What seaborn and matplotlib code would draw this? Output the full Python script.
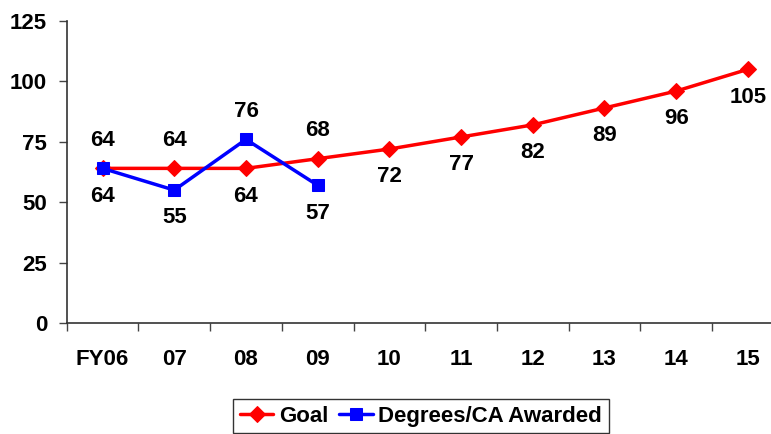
import matplotlib
matplotlib.use('Agg')
import matplotlib.pyplot as plt
import numpy as np
import pandas as pd
import seaborn as sns

# data
years = ['FY06', '07', '08', '09', '10', '11', '12', '13', '14', '15']
goal = [64, 64, 64, 68, 72, 77, 82, 89, 96, 105]
awarded = [64, 55, 76, 57]
# label placement: +1 above, -1 below
goal_label_side = [1, 1, -1, 1, -1, -1, -1, -1, -1, -1]
awarded_label_side = [-1, -1, 1, -1]

sns.set_theme(style='white')
plt.rcParams['font.family'] = ['Liberation Sans', 'DejaVu Sans']
plt.rcParams['font.weight'] = 'bold'
plt.rcParams['text.color'] = 'black'
plt.rcParams['xtick.color'] = 'black'
plt.rcParams['ytick.color'] = 'black'

FS = 16

goal_df = pd.DataFrame({'x': np.arange(len(goal)), 'value': goal})
awarded_df = pd.DataFrame({'x': np.arange(len(awarded)), 'value': awarded})

fig = plt.figure(figsize=(7.71, 4.34), dpi=100)
ax = fig.add_axes([0.0865, 0.2558, 0.930, 0.6958])

sns.lineplot(data=goal_df, x='x', y='value', ax=ax, color='#ff0000', linewidth=2.5,
             marker='D', markersize=8, markeredgecolor='#ff0000', label='Goal')
sns.lineplot(data=awarded_df, x='x', y='value', ax=ax, color='#0000ff', linewidth=2.5,
             marker='s', markersize=9, markeredgecolor='#0000ff', label='Degrees/CA Awarded')

for i, (v, s) in enumerate(zip(goal, goal_label_side)):
    ax.annotate(str(v), (i, v), xytext=(0, 20 * s), textcoords='offset points',
                ha='center', va='center', fontsize=FS, fontweight='bold', color='black')
for i, (v, s) in enumerate(zip(awarded, awarded_label_side)):
    ax.annotate(str(v), (i, v), xytext=(0, 20 * s), textcoords='offset points',
                ha='center', va='center', fontsize=FS, fontweight='bold', color='black')

ax.set_xlim(-0.5, len(years) - 0.5)
ax.set_ylim(0, 125)
ax.set_yticks([0, 25, 50, 75, 100, 125])
ax.set_xticks(np.arange(len(years)))
ax.set_xticklabels(years)
ax.set_xticks(np.arange(len(years) + 1) - 0.5, minor=True)
ax.tick_params(axis='x', which='major', length=0, pad=19, labelsize=FS, labelcolor='black')
ax.tick_params(axis='x', which='minor', length=6, width=1, color='#444444', direction='out', bottom=True)
ax.tick_params(axis='y', length=6, width=1, color='#444444', direction='out', left=True,
               labelsize=FS, labelcolor='black', pad=8)
for lbl in ax.get_xticklabels() + ax.get_yticklabels():
    lbl.set_fontweight('bold')

ax.set_xlabel('')
ax.set_ylabel('')
for side in ['top', 'right']:
    ax.spines[side].set_visible(False)
for side in ['left', 'bottom']:
    ax.spines[side].set_color('#333333')
    ax.spines[side].set_linewidth(1.2)

leg = ax.legend(loc='upper center', bbox_to_anchor=(421 / 771, 0.081), bbox_transform=fig.transFigure,
                ncol=2, frameon=True, fancybox=False, fontsize=FS, handlelength=1.5,
                handletextpad=0.25, columnspacing=0.5, borderpad=0.3, borderaxespad=0)
leg.get_frame().set_edgecolor('black')
leg.get_frame().set_linewidth(1)
for t in leg.get_texts():
    t.set_fontweight('bold')
    t.set_color('black')

fig.savefig('out.png', dpi=100)
